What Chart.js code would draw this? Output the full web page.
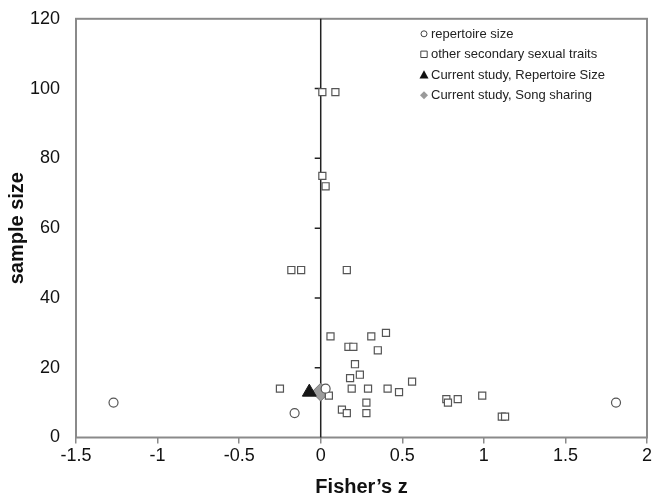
<!DOCTYPE html>
<html>
<head>
<meta charset="utf-8">
<title>Fisher's z vs sample size</title>
<script src="https://cdn.jsdelivr.net/npm/chart.js@4.4.1/dist/chart.umd.min.js"></script>
<style>
  html, body { margin: 0; padding: 0; background: #fff; }
  #wrap { width: 652px; height: 499px; }
</style>
</head>
<body>
<div id="wrap"><canvas id="funnelChart" width="652" height="499"></canvas></div>
<script>
// published studies, repertoire size
const repertoireZ = [-1.27, -0.16, 0.03, 1.81];
const repertoireN = [10, 7, 14, 10];

// published studies, other secondary sexual traits
const otherZ = [-0.25, 0.06, 0.17, 0.20, 0.31, 0.40, 0.35, 0.21, 0.24, 0.18, 0.19,
                0.29, 0.41, 0.48, 0.56, 0.05, 0.28, 0.13, 0.16, 0.28, 0.77, 0.78,
                0.84, 0.99, 1.11, 1.13, 0.01, 0.09, 0.01, 0.03, -0.18, -0.12, 0.16];
const otherN = [14, 29, 26, 26, 29, 30, 25, 21, 18, 17, 14,
                14, 14, 13, 16, 12, 10, 8, 7, 7, 11, 10,
                11, 12, 6, 6, 99, 99, 75, 72, 48, 48, 48];

// current study
const currentRepZ = [-0.07];
const currentRepN = [13];
const currentSongZ = [0.0];
const currentSongN = [13];

const seriesLabels = ['repertoire size', 'other secondary sexual traits',
                      'Current study, Repertoire Size', 'Current study, Song sharing'];

const xTicks = [-1.5, -1, -0.5, 0, 0.5, 1, 1.5, 2];
const yTicks = [0, 20, 40, 60, 80, 100, 120];

const FONT = "'Liberation Sans', Arial, sans-serif";
const FRAME_GREY = '#8a8a8a';

function toPoints(xs, ys) {
    return xs.map((x, i) => ({ x: x, y: ys[i] }));
}

// small markers for the legend
function drawMarker(ctx, style, x, y, r, fill, stroke, lw) {
    ctx.save();
    ctx.fillStyle = fill;
    ctx.strokeStyle = stroke;
    ctx.lineWidth = lw;
    ctx.beginPath();
    if (style === 'circle') {
        ctx.arc(x, y, r, 0, Math.PI * 2);
    } else if (style === 'rect') {
        ctx.rect(x - r, y - r, r * 2, r * 2);
    } else if (style === 'triangle') {
        ctx.moveTo(x, y - r);
        ctx.lineTo(x + r, y + r * 0.8);
        ctx.lineTo(x - r, y + r * 0.8);
        ctx.closePath();
    } else if (style === 'rectRot') {
        ctx.moveTo(x, y - r);
        ctx.lineTo(x + r, y);
        ctx.lineTo(x, y + r);
        ctx.lineTo(x - r, y);
        ctx.closePath();
    }
    ctx.fill();
    if (lw > 0) ctx.stroke();
    ctx.restore();
}

// frame round the plot plus the vertical line at z = 0 with its ticks
const frameAndZeroLine = {
    id: 'frameAndZeroLine',
    beforeDatasetsDraw(chart) {
        const { ctx, chartArea } = chart;
        const xs = chart.scales.x;
        const ys = chart.scales.y;
        ctx.save();
        ctx.strokeStyle = FRAME_GREY;
        ctx.lineWidth = 2;
        ctx.strokeRect(chartArea.left, chartArea.top,
                       chartArea.right - chartArea.left, chartArea.bottom - chartArea.top);

        const x0 = xs.getPixelForValue(0);
        ctx.strokeStyle = '#222';
        ctx.lineWidth = 1.5;
        ctx.beginPath();
        ctx.moveTo(x0, chartArea.top);
        ctx.lineTo(x0, chartArea.bottom);
        yTicks.forEach(v => {
            if (v === 0 || v === yTicks[yTicks.length - 1]) return;
            const py = ys.getPixelForValue(v);
            ctx.moveTo(x0 - 6, py);
            ctx.lineTo(x0, py);
        });
        ctx.stroke();
        ctx.restore();
    }
};

const legendMarkers = [
    { style: 'circle', r: 3, fill: '#fff', stroke: '#444', lw: 1 },
    { style: 'rect', r: 3.2, fill: '#fff', stroke: '#444', lw: 1 },
    { style: 'triangle', r: 4.5, fill: '#111', stroke: '#111', lw: 0 },
    { style: 'rectRot', r: 4, fill: '#9a9a9a', stroke: '#9a9a9a', lw: 0 }
];

const cornerLegend = {
    id: 'cornerLegend',
    afterDraw(chart) {
        const { ctx, chartArea } = chart;
        const mx = chartArea.right - 223;
        ctx.save();
        ctx.font = '13px ' + FONT;
        ctx.textBaseline = 'middle';
        seriesLabels.forEach((label, i) => {
            const y = chartArea.top + 15 + i * 20.5;
            const m = legendMarkers[i];
            drawMarker(ctx, m.style, mx, y, m.r, m.fill, m.stroke, m.lw);
            ctx.fillStyle = '#222';
            ctx.fillText(label, mx + 7, y + 0.5);
        });
        ctx.restore();
    }
};

const ctx = document.getElementById('funnelChart').getContext('2d');
const funnelChart = new Chart(ctx, {
    type: 'scatter',
    data: {
        datasets: [{
            label: seriesLabels[0],
            data: toPoints(repertoireZ, repertoireN),
            pointStyle: 'circle',
            pointRadius: 4.5,
            backgroundColor: '#fff',
            borderColor: '#555',
            borderWidth: 1.2
        }, {
            label: seriesLabels[1],
            data: toPoints(otherZ, otherN),
            pointStyle: 'rect',
            pointRadius: 5,
            backgroundColor: '#fff',
            borderColor: '#555',
            borderWidth: 1.2
        }, {
            label: seriesLabels[2],
            data: toPoints(currentRepZ, currentRepN),
            pointStyle: 'triangle',
            pointRadius: 8,
            backgroundColor: '#151515',
            borderColor: '#151515',
            borderWidth: 1
        }, {
            label: seriesLabels[3],
            data: toPoints(currentSongZ, currentSongN),
            pointStyle: 'rectRot',
            pointRadius: 9,
            backgroundColor: '#9c9c9c',
            borderColor: '#7a7a7a',
            borderWidth: 1
        }]
    },
    options: {
        responsive: false,
        animation: false,
        layout: {
            autoPadding: false,
            padding: { top: 17, right: 5, left: 0, bottom: 0 }
        },
        scales: {
            x: {
                type: 'linear',
                min: xTicks[0],
                max: xTicks[xTicks.length - 1],
                afterBuildTicks: scale => {
                    scale.ticks = xTicks.map(v => ({ value: v }));
                },
                afterFit: scale => {
                    scale.height = 61.5;
                    // the last label is allowed to touch the page edge
                    scale.paddingRight = 0;
                    scale.paddingLeft = 0;
                },
                border: { display: false },
                grid: {
                    display: true,
                    drawOnChartArea: false,
                    drawTicks: true,
                    tickLength: 6,
                    color: FRAME_GREY,
                    lineWidth: 1.5
                },
                ticks: {
                    color: '#111',
                    font: { family: FONT, size: 18 },
                    padding: 2,
                    maxRotation: 0,
                    callback: v => String(v)
                },
                title: {
                    display: true,
                    text: 'Fisher\u2019s z',
                    color: '#111',
                    font: { family: FONT, size: 20, weight: 'bold' },
                    padding: { top: 0, bottom: 0 }
                }
            },
            y: {
                type: 'linear',
                min: yTicks[0],
                max: yTicks[yTicks.length - 1],
                afterBuildTicks: scale => {
                    scale.ticks = yTicks.map(v => ({ value: v }));
                },
                afterFit: scale => { scale.width = 76; },
                border: { display: false },
                grid: {
                    display: false
                },
                ticks: {
                    color: '#111',
                    font: { family: FONT, size: 18 },
                    padding: 8,
                    callback: v => String(v)
                },
                title: {
                    display: true,
                    text: 'sample size',
                    color: '#111',
                    font: { family: FONT, size: 20, weight: 'bold' },
                    padding: { top: 5, bottom: 0 }
                }
            }
        },
        plugins: {
            legend: { display: false },
            tooltip: { enabled: false }
        }
    },
    plugins: [frameAndZeroLine, cornerLegend]
});
</script>
</body>
</html>
